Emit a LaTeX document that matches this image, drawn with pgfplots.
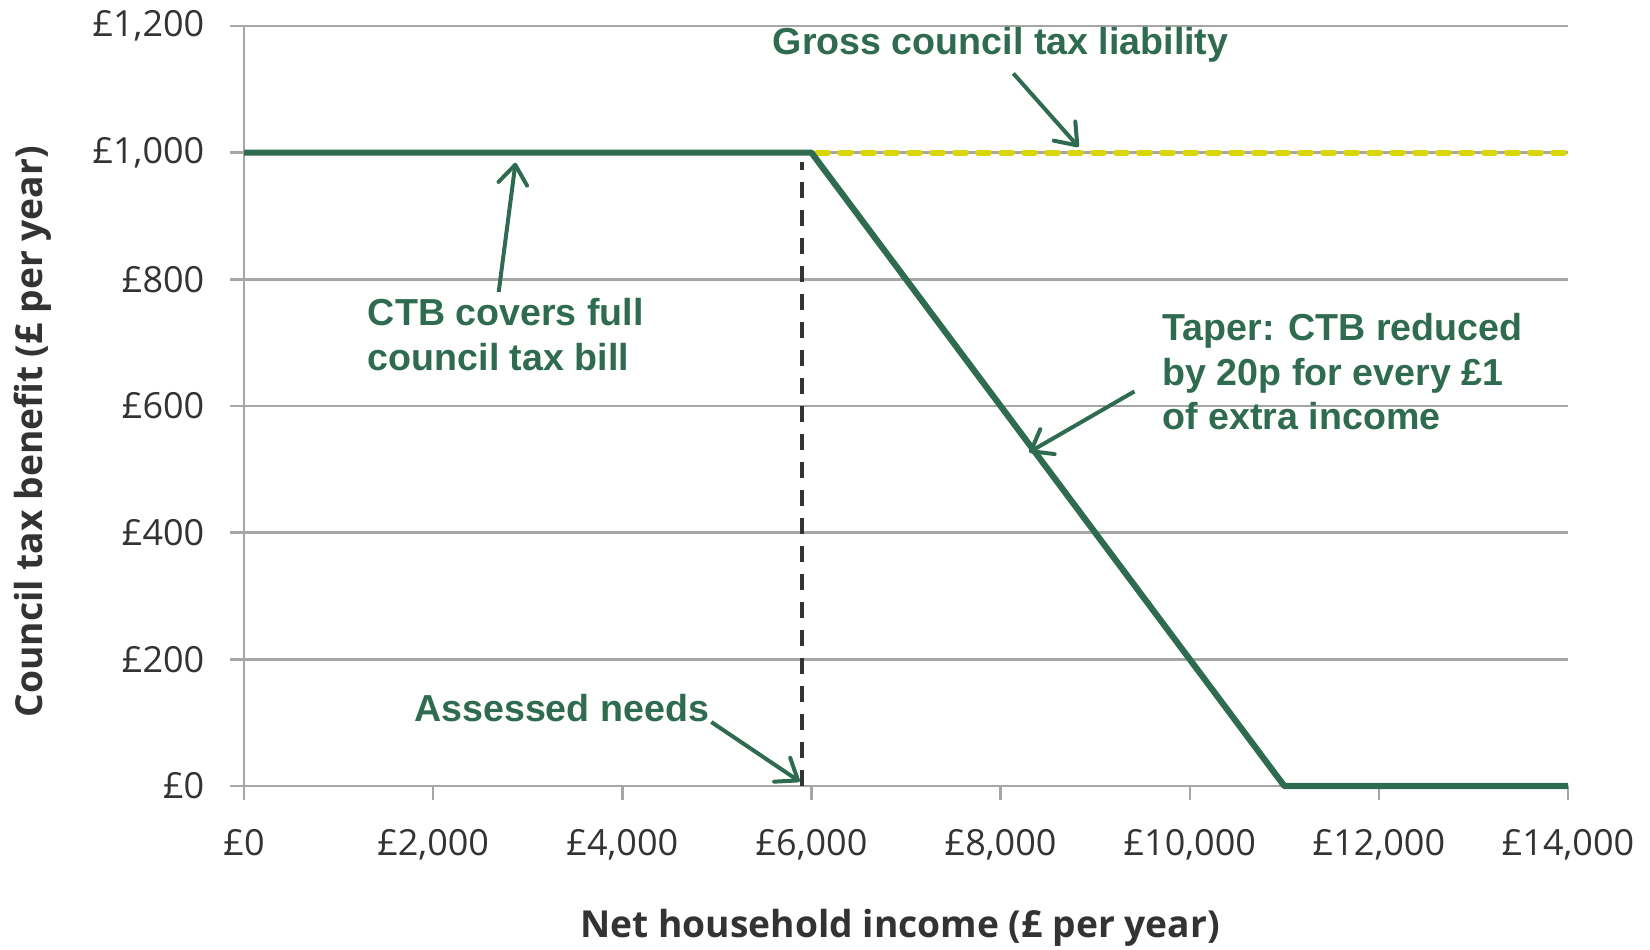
\documentclass[border=0pt]{standalone}
\usepackage{fontspec}
\setmainfont{Open Sans}
\newfontfamily\arial{Liberation Sans}
\usepackage{pgfplots}
\pgfplotsset{compat=1.18}
\usetikzlibrary{arrows.meta}

\definecolor{ctbgreen}{RGB}{47,107,80}
\definecolor{liabyellow}{RGB}{218,214,8}
\definecolor{gridgrey}{RGB}{166,166,166}
\definecolor{ticktext}{RGB}{51,51,51}

\tikzset{note/.style={font=\arial\bfseries\fontsize{9.4}{11.2}\selectfont, text=ctbgreen, inner sep=0pt},
  notearrow/.style={draw=ctbgreen, line width=1pt, -{Straight Barb[length=4.8pt, width=7.2pt, line width=1pt, round]}}}

\begin{document}
\begin{tikzpicture}
\begin{axis}[
    scale only axis,
    width=331pt, height=190pt,
    xmin=0, xmax=14000,
    ymin=0, ymax=1200,
    scaled ticks=false,
    xtick={0,2000,4000,6000,8000,10000,12000,14000},
    xticklabels={{£0},{£2,000},{£4,000},{£6,000},{£8,000},{£10,000},{£12,000},{£14,000}},
    ytick={0,200,400,600,800,1000,1200},
    yticklabels={{£0},{£200},{£400},{£600},{£800},{£1,000},{£1,200}},
    /pgf/number format/assume math mode=true,
    tick label style={font=\fontsize{9}{11}\selectfont, text=ticktext},
    xticklabel style={yshift=-4pt},
    yticklabel style={xshift=-3pt},
    axis x line*=bottom,
    axis y line*=left,
    axis line style={draw=gridgrey, line width=0.6pt, -},
    tick style={draw=gridgrey, line width=0.6pt},
    tick align=outside,
    major tick length=3.4pt,
    ymajorgrids=true,
    grid style={draw=gridgrey, line width=0.6pt},
    xlabel={\bfseries Net household income (£ per year)},
    ylabel={\bfseries Council tax benefit (£ per year)},
    label style={font=\fontsize{9.3}{11}\selectfont, text=ticktext},
    xlabel style={at={(rel axis cs:0.4955,-0.187)}, anchor=center},
    ylabel style={at={(rel axis cs:-0.1594,0.466)}, anchor=center},
    clip=false,
]

% gross council tax liability
\addplot[liabyellow, line width=1.5pt, line cap=round, dash pattern=on 2.7pt off 3.05pt]
coordinates {(6060,1000) (14000,1000)};

% assessed needs
\addplot[black!80, line width=1pt, dash pattern=on 4pt off 3pt]
coordinates {(5900,0) (5900,985)};

% council tax benefit
\addplot[ctbgreen, line width=1.55pt, line join=round]
coordinates {(0,1000) (6000,1000) (11000,0) (14000,0)};

% annotations
\node[note, anchor=center] at (axis cs:8000,1170) {Gross council tax liability};
\draw[notearrow] (axis cs:8135,1125) -- (axis cs:8825,1009);

\node[note, anchor=north west, align=left] at (axis cs:1302,771) {CTB covers full\\council tax bill};
\draw[notearrow] (axis cs:2693,780) -- (axis cs:2871,984);

\node[note, anchor=north west, align=left] at (axis cs:9704,748) {Taper: CTB reduced\\by 20p for every £1\\of extra income};
\draw[notearrow] (axis cs:9415,623) -- (axis cs:8302,527);

\node[note, anchor=west] at (axis cs:1792,123) {Assessed needs};
\draw[notearrow] (axis cs:4941,101) -- (axis cs:5876,7);

\coordinate (SW) at (rel axis cs:-0.1843,-0.2145);
\coordinate (NE) at (rel axis cs:1.0619,1.0342);
\end{axis}
\pgfresetboundingbox
\path[use as bounding box] (SW) rectangle (NE);
\end{tikzpicture}
\end{document}
